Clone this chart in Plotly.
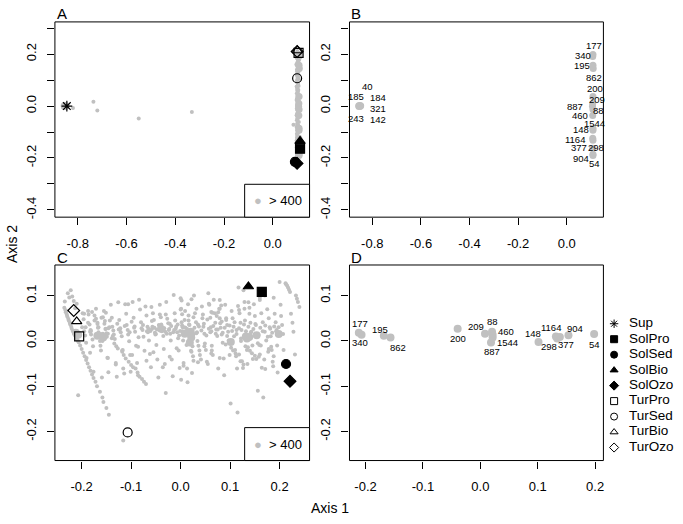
import plotly.graph_objects as go

W, H = 683, 524
FONT = "Liberation Sans"
GRAY = "#C0C0C0"

# ---------------- data ----------------
# Panel C: small grey points (axis 1, axis 2) of second ordination
c_small_x = [
 -0.235,-0.233,-0.232,-0.230,-0.229,-0.227,-0.226,-0.224,-0.223,-0.221,-0.220,-0.218,-0.216,-0.214,-0.212,-0.210,-0.208,-0.206,
 -0.203,-0.200,-0.197,-0.194,-0.191,-0.188,-0.185,-0.182,-0.179,-0.176,-0.172,-0.169,-0.163,-0.158,-0.156,-0.150,-0.145,-0.116,
 -0.198,-0.196,-0.199,-0.195,-0.193,-0.191,-0.190,-0.187,
 -0.186,-0.184,-0.182,-0.181,-0.178,-0.177,-0.176,-0.174,
 -0.171,-0.168,-0.167,-0.166,-0.165,-0.163,-0.161,-0.159,-0.157,
 -0.155,-0.153,-0.152,-0.150,-0.149,-0.147,-0.146,-0.144,
 -0.141,-0.139,-0.138,-0.136,-0.135,-0.133,-0.131,-0.129,-0.128,
 -0.126,-0.124,-0.122,-0.121,-0.119,-0.118,-0.116,-0.114,
 -0.112,-0.110,-0.109,-0.107,-0.106,-0.104,-0.102,-0.101,-0.099,
 -0.097,-0.095,-0.093,-0.092,-0.090,-0.088,-0.086,
 -0.084,-0.082,-0.080,-0.079,-0.077,-0.075,-0.073,
 -0.071,-0.069,-0.067,-0.066,-0.064,-0.062,-0.060,-0.058,
 -0.056,-0.054,-0.053,-0.051,-0.049,-0.047,-0.045,-0.044,
 -0.042,-0.040,-0.039,-0.037,-0.035,-0.034,-0.032,-0.030,
 -0.029,-0.027,-0.025,-0.023,-0.021,-0.020,-0.018,-0.016,
 -0.014,-0.012,-0.011,-0.009,-0.007,-0.005,-0.004,
 -0.002,0.000,0.001,0.002,0.003,0.004,0.005,0.006,0.001,0.002,0.003,
 0.008,0.010,0.011,0.012,0.013,0.014,0.015,0.016,0.017,
 0.019,0.021,0.022,0.023,0.024,0.025,0.026,0.027,
 0.029,0.031,0.033,0.034,0.036,0.038,0.039,
 0.041,0.043,0.044,0.046,0.048,0.049,0.051,
 0.053,0.055,0.056,0.058,0.060,0.061,0.060,
 0.063,0.065,0.067,0.069,0.070,0.072,0.074,0.063,
 0.076,0.078,0.079,0.081,0.083,0.085,0.087,
 0.088,0.090,0.092,0.094,0.096,0.097,0.099,
 0.101,0.103,0.105,0.107,0.108,0.110,
 0.112,0.114,0.115,0.117,0.119,0.121,0.113,
 0.122,0.124,0.126,0.127,0.129,0.130,0.132,0.122,
 0.134,0.135,0.137,0.139,0.141,0.143,0.145,
 0.146,0.148,0.150,0.152,0.154,0.156,0.158,
 0.156,0.160,0.163,0.166,0.170,0.173,0.160,0.164,0.167,0.170,
 0.175,0.178,0.180,0.182,0.184,0.186,0.188,
 0.190,0.192,0.193,0.195,0.196,0.198,0.200,
 0.202,0.203,0.205,0.207,0.208,0.210,0.212,0.213,
 0.215,0.217,0.219,0.221,0.223,0.226,0.228,0.231,0.233,0.235,0.237,0.240,
 # dense middle band
 -0.195,-0.187,-0.183,-0.179,-0.174,-0.171,-0.166,-0.161,-0.158,-0.154,
 -0.151,-0.147,-0.143,-0.139,-0.134,-0.130,-0.127,-0.123,-0.118,-0.115,
 -0.111,-0.105,-0.100,-0.096,-0.091,-0.087,-0.083,-0.078,-0.074,-0.070,
 -0.065,-0.061,-0.057,-0.052,-0.048,-0.043,-0.038,-0.033,-0.028,-0.024,
 -0.019,-0.015,-0.010,-0.006,-0.001,0.004,0.009,0.013,0.018,0.023,
 0.028,0.032,0.037,0.042,0.047,0.052,0.057,0.062,0.066,0.071,
 0.075,0.080,0.085,0.089,0.094,0.099,0.104,0.109,0.113,0.118,
 0.123,0.128,0.133,0.137,0.142,0.147,0.151,0.157,0.161,0.166,
 0.171,0.176,0.181,0.185,0.189,0.194,0.198,
 # lower band
 -0.192,-0.181,-0.168,-0.157,-0.146,-0.137,-0.125,-0.113,-0.103,-0.094,
 -0.085,-0.076,-0.068,-0.058,-0.050,-0.041,-0.031,-0.022,-0.013,-0.003,
 0.007,0.016,0.026,0.035,0.045,0.054,0.064,0.073,0.083,0.092,
 0.102,0.111,0.121,0.131,0.140,0.150,0.159,0.169,0.178,0.187,
 # upper band
 -0.183,-0.162,-0.148,-0.131,-0.117,-0.098,-0.086,-0.069,-0.055,-0.036,
 -0.022,-0.008,0.006,0.021,0.035,0.048,0.062,0.079,0.091,0.106,
 0.118,0.127,0.136,0.144,0.153,0.162,0.171,0.177,0.183,0.188,
 # scattered
 -0.160,-0.151,-0.059,-0.030,0.000,0.057,0.062,0.079,0.079,0.116,
 0.118,0.129,0.139,0.160,0.009,-0.106,-0.042,0.022,0.032,0.076,0.082,
 # left arch, second strip
 -0.234,-0.231,-0.228,-0.225,-0.222,-0.219,-0.216,-0.213,-0.210,-0.207,
]
c_small_y = [
 0.073,0.068,0.063,0.058,0.054,0.049,0.045,0.040,0.036,0.031,0.027,0.022,0.018,0.013,0.009,0.005,0.001,-0.003,
 -0.010,-0.018,-0.026,-0.034,-0.042,-0.050,-0.058,-0.066,-0.074,-0.082,-0.090,-0.100,-0.112,-0.125,-0.135,-0.148,-0.163,-0.220,
 0.061,0.048,0.030,0.021,0.012,-0.004,-0.038,0.066,
 0.058,0.036,0.024,0.014,0.003,-0.012,-0.068,0.045,
 0.071,0.040,0.029,0.019,0.008,0.000,-0.021,-0.081,0.052,
 0.066,0.044,0.026,0.017,0.009,-0.038,-0.069,0.030,
 0.080,0.051,0.031,0.023,0.014,0.004,-0.052,-0.079,0.038,
 0.085,0.046,0.028,0.019,0.010,-0.021,-0.061,-0.072,
 0.081,0.060,0.035,0.024,0.014,-0.001,-0.031,-0.068,0.042,
 0.086,0.051,0.032,0.020,-0.011,-0.049,-0.076,
 0.091,0.069,0.041,0.028,0.024,0.009,-0.022,
 0.076,0.056,0.031,0.019,0.001,-0.029,-0.058,0.044,
 0.061,0.046,0.029,0.014,-0.009,-0.041,-0.081,0.035,
 0.080,0.052,0.036,0.024,0.011,-0.018,-0.051,-0.115,
 0.086,0.049,0.039,0.026,0.016,0.001,-0.041,-0.078,
 0.101,0.061,0.045,0.031,0.019,0.006,-0.021,-0.060,
 0.094,0.071,0.041,0.034,0.021,0.001,-0.049,-0.086,
 0.089,0.059,0.046,0.029,0.014,-0.009,-0.061,
 -0.091,0.081,0.056,0.036,0.021,0.006,-0.024,-0.071,-0.012,-0.034,-0.044,
 0.100,0.061,0.041,0.019,0.000,-0.011,-0.021,-0.031,-0.041,
 0.076,0.050,0.031,0.016,-0.006,-0.020,-0.046,-0.051,
 0.105,0.080,0.051,0.030,0.019,-0.011,-0.031,
 0.091,0.061,0.040,0.025,0.011,-0.021,-0.061,
 0.071,0.050,0.029,0.014,-0.004,-0.039,-0.076,
 0.080,0.046,0.035,0.020,0.001,-0.031,-0.138,
 0.066,0.050,0.031,0.010,-0.020,-0.034,-0.061,-0.158,
 0.118,0.061,0.040,0.024,0.005,-0.045,-0.060,
 0.112,0.071,0.045,0.021,0.000,-0.020,-0.051,
 0.085,0.060,0.040,0.020,-0.010,-0.040,
 0.081,0.055,0.035,0.015,-0.005,-0.035,-0.110,
 0.090,0.061,0.041,0.020,0.001,-0.030,-0.059,-0.125,
 0.100,0.070,0.050,0.030,0.010,-0.020,-0.046,
 0.095,0.060,0.041,0.021,-0.010,-0.070,0.030,
 0.130,0.080,0.055,0.035,0.015,-0.020,-0.050,
 0.127,0.125,0.122,0.118,0.113,0.108,0.060,0.040,0.020,-0.030,
 0.100,0.093,0.086,0.075,0.060,0.040,0.020,
 0.064,0.056,0.049,0.030,0.015,0.000,0.038,
 0.027,0.016,0.045,0.006,-0.006,-0.012,-0.017,0.025,
 -0.024,-0.031,-0.039,-0.046,-0.053,-0.058,-0.061,-0.070,-0.079,-0.084,-0.090,-0.095,
 # dense middle band
 0.027,0.022,0.031,0.018,0.025,0.034,0.021,0.028,0.016,0.024,
 0.033,0.019,0.027,0.036,0.022,0.030,0.013,0.026,0.035,0.020,
 0.029,0.017,0.032,0.023,0.038,0.012,0.027,0.021,0.033,0.016,
 0.025,0.039,0.018,0.029,0.011,0.034,0.022,0.041,0.015,0.028,
 0.024,0.036,0.010,0.031,0.019,0.026,0.037,0.014,0.029,0.021,
 0.034,0.009,0.027,0.018,0.032,0.024,0.013,0.030,0.022,0.037,
 0.016,0.028,0.011,0.025,0.033,0.019,0.029,0.008,0.035,0.021,
 0.026,0.015,0.031,0.020,0.038,0.024,0.012,0.030,0.045,0.052,
 0.036,0.058,0.047,0.062,0.055,0.043,0.050,
 # lower band
 -0.015,-0.028,-0.045,-0.012,-0.022,-0.033,-0.009,-0.041,-0.018,-0.056,
 -0.026,-0.011,-0.037,-0.049,-0.020,-0.031,-0.013,-0.044,-0.025,-0.058,
 -0.035,-0.016,-0.055,-0.022,-0.047,-0.012,-0.028,-0.038,-0.008,-0.021,
 -0.030,-0.052,-0.014,-0.027,-0.040,-0.010,-0.062,-0.024,-0.013,-0.034,
 # upper band
 0.051,0.062,0.075,0.058,0.069,0.082,0.064,0.071,0.090,0.077,
 0.068,0.086,0.073,0.095,0.066,0.081,0.058,0.092,0.071,0.063,
 0.078,0.087,0.066,0.105,0.096,0.112,0.098,0.088,0.072,0.082,
 # scattered
 -0.120,-0.141,-0.116,-0.083,-0.178,-0.138,-0.158,-0.024,-0.035,-0.108,
 -0.119,-0.090,-0.061,-0.039,-0.068,0.093,0.100,0.109,0.104,0.116,0.115,
 # left arch, second strip
 0.066,0.058,0.050,0.042,0.034,0.026,0.018,0.010,0.003,-0.004,
]

# Panel A: small grey points (first ordination)
a_small_x = [
 0.101,0.099,0.103,0.100,0.098,0.102,0.104,0.100,0.097,0.101,0.103,0.099,0.100,0.102,0.098,0.101,
 0.103,0.100,0.099,0.102,0.104,0.098,0.101,0.100,0.103,0.099,0.101,0.102,0.100,0.098,0.101,0.103,
 0.100,0.102,0.099,0.101,0.104,0.100,0.098,0.102,0.101,0.099,0.103,0.100,0.102,0.098,0.101,0.100,
 0.103,0.099,0.101,0.100,0.102,0.098,0.100,0.101,0.103,0.099,0.100,0.102,0.101,0.099,0.100,0.102,
 0.106,0.104,0.107,0.105,0.104,0.106,0.105,0.107,0.104,0.106,0.105,0.104,0.106,0.107,0.105,0.104,
 0.106,0.105,0.104,0.107,0.105,0.106,0.104,0.105,0.107,0.106,0.104,0.105,0.106,0.104,0.105,0.106,
 0.085,-0.820,-0.736,-0.720,-0.550,-0.332,
]
a_small_y = [
 0.212,0.205,0.198,0.192,0.186,0.180,0.173,0.166,0.160,0.153,0.147,0.140,0.134,0.127,0.121,0.114,
 0.108,0.101,0.095,0.088,0.082,0.075,0.069,0.062,0.056,0.049,0.043,0.036,0.030,0.023,0.017,0.010,
 0.004,-0.003,-0.009,-0.016,-0.022,-0.029,-0.035,-0.042,-0.048,-0.055,-0.061,-0.068,-0.074,-0.081,-0.087,-0.094,
 -0.100,-0.107,-0.113,-0.120,-0.126,-0.133,-0.139,-0.146,-0.152,-0.159,-0.165,-0.172,-0.178,-0.185,-0.191,-0.198,
 0.202,0.188,0.176,0.161,0.149,0.133,0.118,0.104,0.091,0.077,0.062,0.047,0.033,0.020,0.006,-0.007,
 -0.020,-0.034,-0.047,-0.061,-0.075,-0.089,-0.103,-0.117,-0.131,-0.145,-0.158,-0.170,-0.183,-0.195,-0.206,-0.212,
 -0.072,-0.008,0.017,-0.017,-0.048,-0.023,
]

# Large species (> 400), labelled in B and D
big_labels = ["177", "340", "195", "862", "200", "209", "887", "88", "460",
              "1544", "148", "1164", "298", "377", "904", "54"]
big_ax1_A = [0.108, 0.107, 0.108, 0.109, 0.108, 0.107, 0.106, 0.108, 0.107,
             0.108, 0.108, 0.107, 0.108, 0.107, 0.108, 0.108]
big_ax2_A = [0.199, 0.191, 0.157, 0.145, 0.037, 0.010, -0.001, -0.013, -0.036,
             -0.086, -0.093, -0.124, -0.132, -0.163, -0.186, -0.190]
big_ax1_C = [-0.2117, -0.2070, -0.1682, -0.1565, -0.0395, 0.0082, 0.0186, 0.0204, 0.0214,
             0.0214, 0.1014, 0.1317, 0.1340, 0.1386, 0.1536, 0.1983]
big_ax2_C = [0.0182, 0.0138, 0.0116, 0.0073, 0.0270, 0.0160, -0.0037, 0.0204, 0.0138,
             0.0073, -0.0022, 0.0095, 0.0051, 0.0084, 0.0123, 0.0150]

# Outlying large species (only in first ordination)
out_labels = ["40", "185", "184", "321", "243", "142"]
out_ax1 = [-0.852, -0.856, -0.848, -0.850, -0.855, -0.851]
out_ax2 = [0.002, 0.001, 0.001, -0.001, -0.002, -0.001]

# Sample groups (black symbols)
groups = ["Sup", "SolPro", "SolSed", "SolBio", "SolOzo", "TurPro", "TurSed", "TurBio", "TurOzo"]
group_symbols = ["asterisk-open", "square", "circle", "triangle-up", "diamond",
                 "square-open", "circle-open", "triangle-up-open", "diamond-open"]
grp_A1 = [-0.845, 0.112, 0.091, 0.112, 0.100, 0.106, 0.100, 0.101, 0.100]
grp_A2 = [0.000, -0.164, -0.215, -0.135, -0.221, 0.205, 0.107, 0.214, 0.210]
grp_C1 = [None, 0.164, 0.213, 0.137, 0.221, -0.205, -0.107, -0.210, -0.216]
grp_C2 = [None, 0.108, -0.051, 0.120, -0.089, 0.010, -0.202, 0.043, 0.067]

# label offsets (pixels, text centre relative to point; y down)
off_B = {"177": (1, -9), "340": (-10, -1), "195": (-11, 0), "862": (1, 9), "200": (2, -8),
         "209": (4, -4), "887": (-17, 0), "88": (6, 1), "460": (-13, 0), "1544": (2, -5),
         "148": (-12, -1), "1164": (-18, 1), "298": (3, 7), "377": (-14, -1), "904": (-12, 4),
         "54": (2, 8)}
off_out = {"40": (8, -19), "185": (-3, -9), "184": (17, -8), "321": (18, 2),
           "243": (-3, 12), "142": (18, 13)}
off_D = {"177": (1, -9), "340": (-2, 8), "195": (-4, -6), "862": (7, 10), "200": (0, 10),
         "209": (-9, -7), "88": (0, -10), "460": (13, -3), "1544": (15, 5), "887": (1, 9),
         "148": (-6, -8), "1164": (-5, -9), "298": (-8, 8), "377": (6, 7), "904": (7, -7),
         "54": (0, 10)}

# ---------------- layout geometry (pixels) ----------------
def px_x(p):
    return p / W

def px_y(p):
    return 1 - p / H

dom = {
    "A": ([px_x(55), px_x(310)], [px_y(218), px_y(22)]),
    "B": ([px_x(350), px_x(604.3)], [px_y(218), px_y(22)]),
    "C": ([px_x(55), px_x(310)], [px_y(462.3), px_y(266)]),
    "D": ([px_x(350), px_x(604.3)], [px_y(462.3), px_y(266)]),
}
rng = {
    "A": ([-0.894, 0.151], [-0.428, 0.324]),
    "B": ([-0.894, 0.151], [-0.428, 0.324]),
    "C": ([-0.254, 0.2605], [-0.264, 0.1675]),
    "D": ([-0.228, 0.2145], [-0.264, 0.1675]),
}
axes_id = {"A": ("x", "y"), "B": ("x2", "y2"), "C": ("x3", "y3"), "D": ("x4", "y4")}

fig = go.Figure()

# Panel A
fig.add_trace(go.Scatter(x=a_small_x, y=a_small_y, mode="markers", xaxis="x", yaxis="y",
                         marker=dict(size=4, color=GRAY), showlegend=False))
fig.add_trace(go.Scatter(x=out_ax1 + big_ax1_A, y=out_ax2 + big_ax2_A, mode="markers",
                         xaxis="x", yaxis="y", marker=dict(size=7, color=GRAY), showlegend=False))
for i, g in enumerate(groups):
    fig.add_trace(go.Scatter(x=[grp_A1[i]], y=[grp_A2[i]], mode="markers", xaxis="x", yaxis="y",
                             marker=dict(size=9, color="black", symbol=group_symbols[i],
                                         line=dict(color="black", width=1.2)),
                             showlegend=False))

# Panel B
fig.add_trace(go.Scatter(x=out_ax1 + big_ax1_A, y=out_ax2 + big_ax2_A, mode="markers",
                         xaxis="x2", yaxis="y2", marker=dict(size=7, color=GRAY), showlegend=False))

# Panel C
fig.add_trace(go.Scatter(x=c_small_x, y=c_small_y, mode="markers", xaxis="x3", yaxis="y3",
                         marker=dict(size=4, color=GRAY), showlegend=False))
fig.add_trace(go.Scatter(x=big_ax1_C, y=big_ax2_C, mode="markers", xaxis="x3", yaxis="y3",
                         marker=dict(size=8, color=GRAY), showlegend=False))
for i, g in enumerate(groups):
    if grp_C1[i] is None:
        continue
    fig.add_trace(go.Scatter(x=[grp_C1[i]], y=[grp_C2[i]], mode="markers", xaxis="x3", yaxis="y3",
                             marker=dict(size=9, color="black", symbol=group_symbols[i],
                                         line=dict(color="black", width=1.2)),
                             showlegend=False))

# Panel D
fig.add_trace(go.Scatter(x=big_ax1_C, y=big_ax2_C, mode="markers",
                         xaxis="x4", yaxis="y4", marker=dict(size=8, color=GRAY), showlegend=False))

# Legend (own hidden axes)
leg_y = list(range(len(groups)))
fig.add_trace(go.Scatter(x=[0] * len(groups), y=leg_y, mode="markers",
                         marker=dict(size=7, color="black", symbol=group_symbols,
                                     line=dict(color="black", width=1)),
                         xaxis="x5", yaxis="y5", showlegend=False, cliponaxis=False))
fig.add_trace(go.Scatter(x=[1.5] * len(groups), y=leg_y, mode="text", text=groups,
                         textposition="middle right",
                         textfont=dict(size=13.5, family=FONT, color="black"),
                         xaxis="x5", yaxis="y5", showlegend=False, cliponaxis=False))

ax_common = dict(showgrid=False, zeroline=False, showline=False, ticks="outside", ticklen=7,
                 tickcolor="black", tickwidth=1, tickfont=dict(size=13, family=FONT, color="black"))

layout = dict(width=W, height=H, margin=dict(l=0, r=0, t=0, b=0),
              paper_bgcolor="white", plot_bgcolor="white",
              font=dict(family=FONT, color="black"))

xt_AB = [-0.8, -0.6, -0.4, -0.2, 0.0]
yt_AB = [-0.4, -0.3, -0.2, -0.1, 0.0, 0.1, 0.2, 0.3]
yl_AB = ["-0.4", "", "-0.2", "", "0.0", "", "0.2", ""]
xt_C = [-0.2, -0.1, 0.0, 0.1, 0.2]
yt_CD = [-0.2, -0.1, 0.0, 0.1]

for p in "ABCD":
    xa, ya = axes_id[p]
    xkey = "xaxis" + xa[1:]
    ykey = "yaxis" + ya[1:]
    xd, yd = dom[p]
    xr, yr = rng[p]
    if p in "AB":
        xtv, xtt = xt_AB, ["%.1f" % v for v in xt_AB]
        ytv, ytt = yt_AB, yl_AB
    else:
        xtv, xtt = xt_C, ["%.1f" % v for v in xt_C]
        ytv, ytt = yt_CD, ["%.1f" % v for v in yt_CD]
    layout[xkey] = dict(ax_common, domain=xd, range=xr, anchor=ya, tickvals=xtv, ticktext=xtt,
                        ticklabelstandoff=7)
    layout[ykey] = dict(ax_common, domain=yd, range=yr, anchor=xa, tickvals=ytv, ticktext=ytt,
                        tickangle=-90, ticklabelstandoff=6)

layout["xaxis5"] = dict(domain=[px_x(610), px_x(680)], range=[-0.5, 6.5], visible=False,
                        anchor="y5", fixedrange=True)
layout["yaxis5"] = dict(domain=[px_y(457), px_y(317.2)], range=[8.5, -0.5], visible=False,
                        anchor="x5", fixedrange=True)

shapes = []
for p in "ABCD":
    xa, ya = axes_id[p]
    shapes.append(dict(type="rect", xref=xa + " domain", yref=ya + " domain", x0=0, x1=1, y0=0, y1=1,
                       line=dict(color="black", width=1)))
# inset "> 400" boxes
for p in "AC":
    xa, ya = axes_id[p]
    shapes.append(dict(type="rect", xref=xa + " domain", yref=ya + " domain",
                       x0=(245 - 55) / 255, x1=1, y0=0, y1=33 / 196,
                       line=dict(color="black", width=1), fillcolor="white", layer="above"))
layout["shapes"] = shapes

LBL = dict(size=9.5, family=FONT)
ann = []
# point labels anchored on the data points
for i, lab in enumerate(big_labels):
    dx, dy = off_B[lab]
    ann.append(dict(text=lab, x=big_ax1_A[i], y=big_ax2_A[i], xref="x2", yref="y2", showarrow=False,
                    xanchor="center", yanchor="middle", xshift=dx, yshift=-dy, font=LBL))
    dx, dy = off_D[lab]
    ann.append(dict(text=lab, x=big_ax1_C[i], y=big_ax2_C[i], xref="x4", yref="y4", showarrow=False,
                    xanchor="center", yanchor="middle", xshift=dx, yshift=-dy, font=LBL))
for i, lab in enumerate(out_labels):
    dx, dy = off_out[lab]
    ann.append(dict(text=lab, x=out_ax1[i], y=out_ax2[i], xref="x2", yref="y2", showarrow=False,
                    xanchor="center", yanchor="middle", xshift=dx, yshift=-dy, font=LBL))

for p, (xx, yy) in {"A": (55, 14), "B": (350, 14), "C": (55, 258), "D": (350, 258)}.items():
    ann.append(dict(text=p, x=px_x(xx), y=px_y(yy), xref="paper", yref="paper", showarrow=False,
                    xanchor="left", yanchor="middle", font=dict(size=15, family=FONT)))
for yy in (201, 446):
    ann.append(dict(text="<span style='color:%s'>\u25CF</span>  &gt; 400" % GRAY, x=px_x(252), y=px_y(yy),
                    xref="paper", yref="paper", showarrow=False, xanchor="left", yanchor="middle",
                    font=dict(size=13, family=FONT)))
ann.append(dict(text="Axis 2", x=px_x(12), y=px_y(245), xref="paper", yref="paper", showarrow=False,
                xanchor="center", yanchor="middle", textangle=-90, font=dict(size=14, family=FONT)))
ann.append(dict(text="Axis 1", x=px_x(330), y=px_y(510), xref="paper", yref="paper", showarrow=False,
                xanchor="center", yanchor="middle", font=dict(size=14, family=FONT)))
layout["annotations"] = ann

fig.update_layout(**layout)
fig.write_html("out.html", config={"displayModeBar": False},
               post_script="document.body.style.margin='0px';document.body.style.padding='0px';")
